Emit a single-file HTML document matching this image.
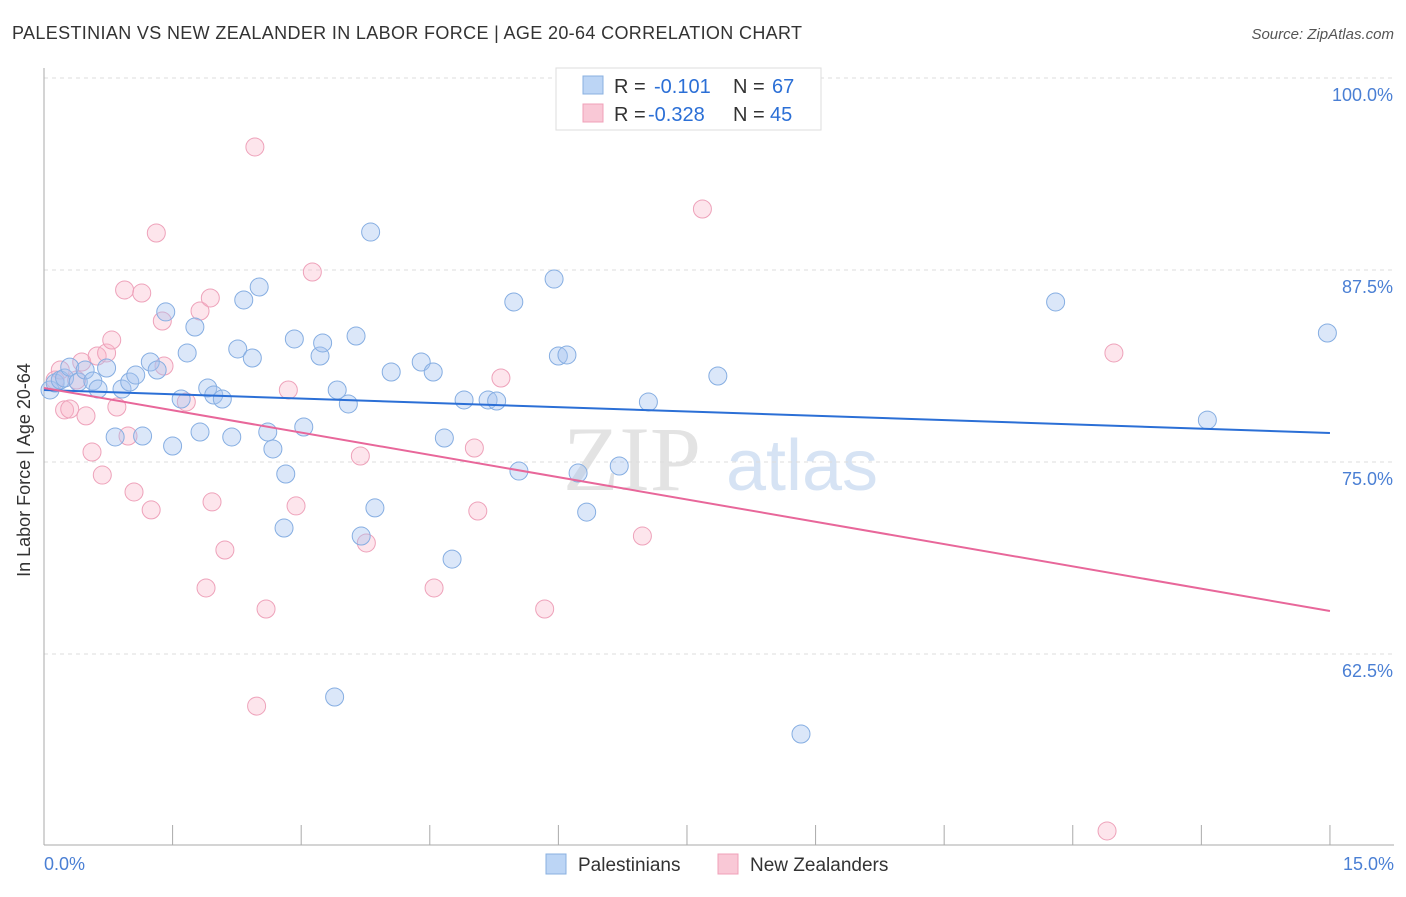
<!DOCTYPE html>
<html><head><meta charset="utf-8"><style>
body{margin:0;background:#fff;font-family:"Liberation Sans",sans-serif;}
</style></head><body>
<svg width="1406" height="892" xmlns="http://www.w3.org/2000/svg">
<text x="12" y="39" font-size="18" fill="#333" letter-spacing="0.35">PALESTINIAN VS NEW ZEALANDER IN LABOR FORCE | AGE 20-64 CORRELATION CHART</text>
<text x="1394" y="39" font-size="15" fill="#555" font-style="italic" text-anchor="end">Source: ZipAtlas.com</text>
<g><text x="632" y="490" font-size="92" fill="#d8d8d8" font-family="Liberation Serif,serif" text-anchor="middle" opacity="0.7">ZIP</text><text x="802" y="490" font-size="72" fill="#c5d8f0" text-anchor="middle" opacity="0.7">atlas</text></g>
<g id="grid"></g>
<g id="marks"></g>
<text x="18" y="458" font-size="18" fill="#333" transform="rotate(-90 30 458)" text-anchor="middle">In Labor Force | Age 20-64</text>
<text x="44" y="870" font-size="18" fill="#4a7fd4">0.0%</text>
<text x="1394" y="870" font-size="18" fill="#4a7fd4" text-anchor="end">15.0%</text>
<g>
<rect x="556" y="68" width="265" height="62" fill="#fff" stroke="#ddd"/>
<rect x="583" y="76" width="20" height="18" fill="#bcd5f5" stroke="#8ab0e0"/>
<text x="614" y="93" font-size="20" fill="#333">R =</text>
<text x="654" y="93" font-size="20" fill="#2b6fd6">-0.101</text>
<text x="733" y="93" font-size="20" fill="#333">N =</text>
<text x="772" y="93" font-size="20" fill="#2b6fd6">67</text>
<rect x="583" y="104" width="20" height="18" fill="#f9c8d6" stroke="#f0a0b8"/>
<text x="614" y="121" font-size="20" fill="#333">R =</text>
<text x="648" y="121" font-size="20" fill="#2b6fd6">-0.328</text>
<text x="733" y="121" font-size="20" fill="#333">N =</text>
<text x="770" y="121" font-size="20" fill="#2b6fd6">45</text>
</g>
<g>
<rect x="546" y="854" width="20" height="20" fill="#bcd5f5" stroke="#8ab0e0"/>
<text x="578" y="871" font-size="19" fill="#333">Palestinians</text>
<rect x="718" y="854" width="20" height="20" fill="#f9c8d6" stroke="#f0a0b8"/>
<text x="750" y="871" font-size="19" fill="#333">New Zealanders</text>
</g>
</svg>
<script>
const yTicks=[100,87.5,75,62.5];
const yTickLabels=["100.0%","87.5%","75.0%","62.5%"];
const xTicks=[0,1.5,3,4.5,6,7.5,9,10.5,12,13.5,15];
const blueX=[0.07,0.13,0.19,0.24,0.30,0.40,0.48,0.57,0.63,0.73,0.83,0.91,1.00,1.07,1.15,1.24,1.32,1.42,1.50,1.60,1.67,1.76,1.82,1.91,1.98,2.08,2.19,2.26,2.33,2.43,2.51,2.61,2.67,2.82,2.80,2.92,3.03,3.22,3.25,3.42,3.55,3.64,3.70,3.81,3.86,4.05,4.40,4.54,4.67,4.76,4.90,5.18,5.28,5.48,5.54,5.95,6.00,6.10,6.23,6.33,6.71,7.05,7.86,8.83,11.80,13.57,14.97,3.39];
const blueY=[79.69,80.14,80.34,80.47,81.18,80.21,80.99,80.27,79.75,81.12,76.63,79.75,80.21,80.66,76.69,81.51,80.99,84.77,76.04,79.10,82.10,83.79,76.95,79.82,79.36,79.10,76.63,82.36,85.55,81.77,86.39,76.95,75.85,74.22,70.70,83.01,77.28,81.90,82.75,79.69,78.78,83.20,70.18,89.97,72.01,80.86,81.51,80.86,76.56,68.68,79.04,79.04,78.97,85.42,74.41,86.91,81.90,81.97,74.28,71.74,74.74,78.91,80.60,57.29,85.42,77.73,83.40,59.70];
const pinkX=[0.13,0.19,0.24,0.30,0.38,0.44,0.49,0.56,0.62,0.68,0.73,0.79,0.85,0.94,0.98,1.05,1.14,1.25,1.31,1.38,1.40,1.66,1.82,1.94,1.89,1.96,2.11,2.46,2.48,2.59,2.85,2.94,3.13,3.69,3.76,4.55,5.02,5.06,5.33,5.84,6.98,7.68,12.48,12.40];
const pinkY=[80.34,80.99,78.39,78.45,80.34,81.51,78.00,75.65,81.90,74.15,82.10,82.94,78.58,86.20,76.69,73.05,86.00,71.88,89.91,84.18,81.25,78.91,84.83,85.68,66.80,72.40,69.27,95.51,59.11,65.43,79.69,72.14,87.37,75.39,69.73,66.80,75.91,71.81,80.47,65.43,70.18,91.47,82.10,50.98];
const blueTrend=[79.69,76.89];
const pinkTrend=[79.82,65.30];
const NS="http://www.w3.org/2000/svg";
const X=v=>44+v*85.73, Y=v=>78+(100-v)*15.36;
function mk(t,a,p){const e=document.createElementNS(NS,t);for(const k in a)e.setAttribute(k,a[k]);p.appendChild(e);return e;}
const grid=document.getElementById('grid'), marks=document.getElementById('marks');
yTicks.forEach((t,i)=>{
 const l=mk('line',{x1:44,x2:1394,y1:Y(t),y2:Y(t),stroke:'#ddd','stroke-dasharray':'4,4'},grid);
 
 
 const tx=mk('text',{x:1393,y:Y(t)+23,'font-size':18,fill:'#4a7fd4','text-anchor':'end'},grid);
 tx.textContent=yTickLabels[i];
 
 
});
const ax=mk('line',{x1:44,x2:1394,y1:845,y2:845,stroke:'#aaa'},grid);


const ay=mk('line',{x1:44,x2:44,y1:68,y2:845,stroke:'#aaa'},grid);


xTicks.forEach(t=>{
 const l=mk('line',{x1:X(t),x2:X(t),y1:825,y2:845,stroke:'#aaa'},grid);
 
 
});
function pts(xs,ys,fill,stroke,name){
 xs.forEach((x,i)=>{
  const c=mk('circle',{cx:X(x),cy:Y(ys[i]),r:9,fill:fill,stroke:stroke,'stroke-width':1},marks);
  
  
 });
}
pts(pinkX,pinkY,'rgba(248,180,200,0.35)','#eea2ba','new-zealander-point');
pts(blueX,blueY,'rgba(164,196,240,0.4)','#86aee2','palestinian-point');
const bl=mk('line',{x1:X(0),y1:Y(blueTrend[0]),x2:X(15),y2:Y(blueTrend[1]),stroke:'#2b6fd6','stroke-width':2},marks);


const pl=mk('line',{x1:X(0),y1:Y(pinkTrend[0]),x2:X(15),y2:Y(pinkTrend[1]),stroke:'#e8679a','stroke-width':2},marks);


</script>
</body></html>
